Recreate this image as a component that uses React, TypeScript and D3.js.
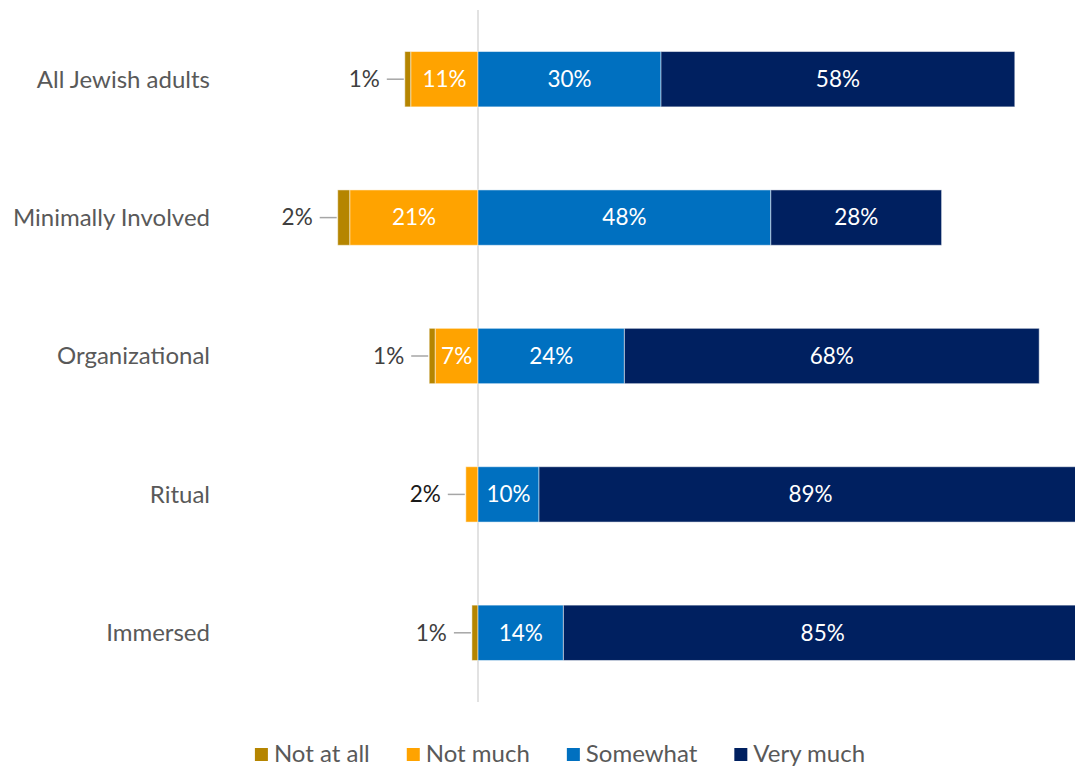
import React, { useEffect, useRef } from "react";
import * as d3 from "d3";

const categories = ["All Jewish adults", "Minimally Involved", "Organizational", "Ritual", "Immersed"];
const seriesNames = ["Not at all", "Not much", "Somewhat", "Very much"];
const notAtAll = [1, 2, 1, 0, 1];
const notMuch = [11, 21, 7, 2, 0];
const somewhat = [30, 48, 24, 10, 14];
const veryMuch = [58, 28, 68, 89, 85];
const colors = ["#B58500", "#FFA300", "#0070C0", "#002060"];

const W = 1075;
const H = 771;
const FONT = "Lato, 'Open Sans', sans-serif";

export default function App() {
  const ref = useRef<SVGSVGElement>(null);
  useEffect(() => {
    const svg = d3.select(ref.current);
    svg.selectAll("*").remove();
    const x = d3.scaleLinear().domain([-30, 100]).range([478 - 30 * 6.1, 478 + 100 * 6.1]);
    const y = d3.scaleBand<string>().domain(categories).range([10, 702]).paddingInner(0.6).paddingOuter(0.3);

    // zero line
    svg.append("line").attr("x1", x(0)).attr("x2", x(0)).attr("y1", 10).attr("y2", 702)
      .attr("stroke", "#d9d9d9").attr("stroke-width", 1.5);

    type Seg = { cat: string; s: number; x0: number; x1: number; v: number };
    const segs: Seg[] = [];
    categories.forEach((c, i) => {
      const a = notAtAll[i], b = notMuch[i];
      segs.push({ cat: c, s: 0, x0: -(a + b), x1: -b, v: a });
      segs.push({ cat: c, s: 1, x0: -b, x1: 0, v: b });
      segs.push({ cat: c, s: 2, x0: 0, x1: somewhat[i], v: somewhat[i] });
      segs.push({ cat: c, s: 3, x0: somewhat[i], x1: somewhat[i] + veryMuch[i], v: veryMuch[i] });
    });
    const bw = y.bandwidth();
    const live = segs.filter(d => d.v > 0);
    svg.append("g").selectAll("rect").data(live).join("rect")
      .attr("x", d => x(d.x0)).attr("width", d => x(d.x1) - x(d.x0))
      .attr("y", d => y(d.cat)!).attr("height", bw)
      .attr("fill", d => colors[d.s]).attr("stroke", "#ffffff").attr("stroke-opacity", 0.5).attr("stroke-width", 1);

    const inside = live.filter(d => d.v >= 5);
    svg.append("g").selectAll("text").data(inside).join("text")
      .attr("x", d => (x(d.x0) + x(d.x1)) / 2).attr("y", d => y(d.cat)! + bw / 2)
      .attr("dy", "0.35em").attr("text-anchor", "middle")
      .attr("fill", "#ffffff").attr("font-family", FONT).attr("font-size", 22.5)
      .text(d => `${d.v}%`);

    // outside labels for small negative segments (leftmost)
    const outside = live.filter(d => d.v < 5 && d.s < 2);
    const og = svg.append("g");
    outside.forEach(d => {
      const left = x(d.x0);
      const cy = y(d.cat)! + bw / 2;
      og.append("line").attr("x1", left - 18).attr("x2", left - 1).attr("y1", cy).attr("y2", cy)
        .attr("stroke", "#a6a6a6").attr("stroke-width", 1.5);
      og.append("text").attr("x", left - 25).attr("y", cy).attr("dy", "0.35em")
        .attr("text-anchor", "end").attr("fill", d.s === 1 ? "#1a1a1a" : "#404040")
        .attr("font-family", FONT).attr("font-size", 22.5)
        .text(`${d.v}%`);
    });

    // category labels
    svg.append("g").selectAll("text").data(categories).join("text")
      .attr("x", 210).attr("y", d => y(d)! + bw / 2).attr("dy", "0.35em")
      .attr("text-anchor", "end").attr("fill", "#595959").attr("font-family", FONT).attr("font-size", 24)
      .text(d => d);

    // legend
    const lg = svg.append("g");
    const items = seriesNames.map((n, i) => {
      const g = lg.append("g");
      g.append("rect").attr("x", 0).attr("y", -14).attr("width", 13).attr("height", 13).attr("fill", colors[i]);
      const t = g.append("text").attr("x", 19).attr("y", 0).attr("fill", "#595959")
        .attr("font-family", FONT).attr("font-size", 24).text(n);
      const w = 19 + (t.node() as SVGTextElement).getComputedTextLength();
      return { g, w };
    });
    const gap = 37;
    const total = d3.sum(items, d => d.w) + gap * (items.length - 1);
    let cx = 560 - total / 2;
    items.forEach(it => {
      it.g.attr("transform", `translate(${cx},762)`);
      cx += it.w + gap;
    });
  }, []);
  return (
    <svg ref={ref} width={W} height={H} style={{ position: "absolute", left: 0, top: 0, background: "#fff" }} />
  );
}
